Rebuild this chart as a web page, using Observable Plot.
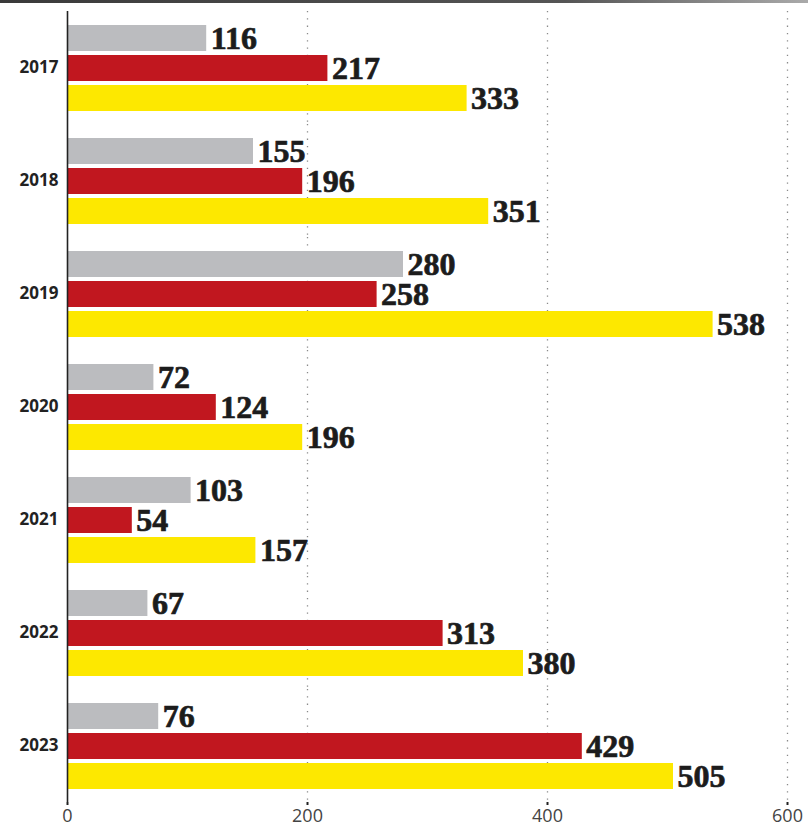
<!DOCTYPE html>
<html>
<head>
<meta charset="utf-8">
<script src="https://cdn.jsdelivr.net/npm/d3@7"></script>
<script src="https://cdn.jsdelivr.net/npm/@observablehq/plot@0.6"></script>
<style>
  html, body { margin: 0; padding: 0; background: #fff; }
  #wrap { position: relative; width: 808px; height: 826px; overflow: hidden; }
  #topline { position: absolute; left: 0; top: 0; width: 808px; height: 3px;
    background: linear-gradient(to right, #3a3a3a, #555 70%, #aaa); }
</style>
</head>
<body>
<div id="wrap"><div id="topline"></div><div id="chart"></div></div>
<script>
const years = ["2017", "2018", "2019", "2020", "2021", "2022", "2023"];
const series = ["Series 1", "Series 2", "Series 3"];
const series1Values = [116, 155, 280, 72, 103, 67, 76];
const series2Values = [217, 196, 258, 124, 54, 313, 429];
const series3Values = [333, 351, 538, 196, 157, 380, 505];
const xTicks = [0, 200, 400, 600];
const colors = ["#bbbcbf", "#c1171f", "#fde800"];

const valuesBySeries = [series1Values, series2Values, series3Values];
const data = years.flatMap((year, i) =>
  series.map((s, j) => ({year, series: s, value: valuesBySeries[j][i]}))
);

const chart = Plot.plot({
  width: 808,
  height: 826,
  marginTop: 10,
  marginBottom: 23,
  marginLeft: 67,
  marginRight: 21,
  x: {domain: [0, 600]},
  y: {domain: series, paddingInner: 0.148, paddingOuter: 0.43, axis: null},
  fy: {domain: years, padding: 0},
  color: {type: "ordinal", domain: series, range: colors},
  marks: [
    Plot.ruleX([200, 400, 600], {stroke: "#8a8a8a", strokeWidth: 1.3, strokeDasharray: "1.3,6"}),
    Plot.barX(data, {x: "value", y: "series", fy: "year", fill: "series"}),
    Plot.ruleX([0], {stroke: "#222", strokeWidth: 1.6}),
    Plot.text(data, {
      x: "value", y: "series", fy: "year",
      text: d => String(d.value),
      dx: 4, textAnchor: "start",
      fontFamily: "Liberation Serif, DejaVu Serif, serif",
      fontWeight: "bold", fontSize: 32,
      fill: "#1c1c1c", stroke: "#1c1c1c", strokeWidth: 0.7
    }),
    Plot.axisFy({
      anchor: "left", tickSize: 0, tickPadding: 9, label: null,
      fontFamily: "Open Sans, sans-serif", fontWeight: "bold", fontSize: 17, fill: "#222"
    }),
    Plot.axisX({
      ticks: xTicks, tickSize: 3, tickPadding: 4, label: null,
      stroke: "#222", strokeWidth: 2,
      fontFamily: "Open Sans, sans-serif", fontSize: 18, fill: "#444"
    })
  ]
});
document.getElementById("chart").appendChild(chart);
</script>
</body>
</html>
